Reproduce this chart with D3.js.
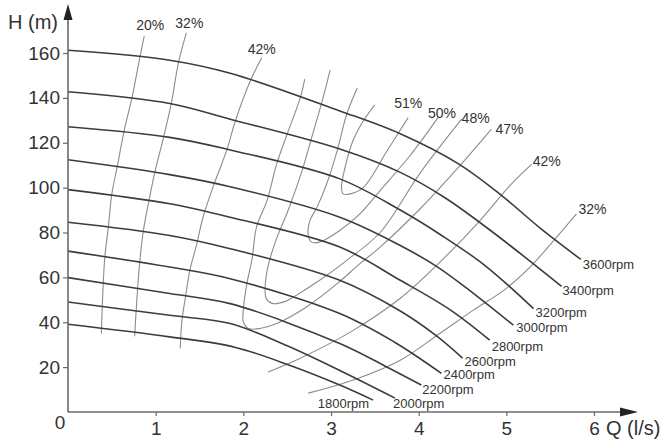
<!DOCTYPE html>
<html><head><meta charset="utf-8">
<script src="https://cdn.jsdelivr.net/npm/d3@7"></script>
<style>body{margin:0;background:#fff}svg{display:block}</style>
</head><body><svg id="c" width="666" height="442"></svg>
<script>
// ---- data (Q in l/s, H in m) ----
const speeds = ["3600rpm","3400rpm","3200rpm","3000rpm","2800rpm","2600rpm","2400rpm","2200rpm","2000rpm","1800rpm"];
const curve3600 = [[0,161.2],[1.16,156.8],[1.85,151.0],[3.10,134.2],[3.79,124.0],[4.45,110.7],[4.93,97.0],[5.40,81.5],[5.85,68.0]];
const curve3400 = [[0,142.7],[1.16,137.5],[1.85,130.5],[3.10,117.2],[3.79,106.8],[4.30,95.5],[4.85,80.0],[5.63,56.0]];
const curve3200 = [[0,127.1],[1.16,122.4],[1.85,116.8],[3.10,103.9],[3.79,90.0],[4.25,79.0],[4.75,65.5],[5.31,46.1]];
const curve3000 = [[0,112.4],[1.16,105.8],[1.85,100.4],[3.10,86.8],[3.79,74.2],[4.20,65.0],[4.62,53.0],[5.08,38.7]];
const curve2800 = [[0,99.1],[1.16,92.8],[1.85,86.8],[3.10,73.5],[3.79,58.7],[4.36,45.5],[4.81,32.0]];
const curve2600 = [[0,84.6],[1.16,78.7],[1.85,72.8],[3.10,58.7],[3.79,45.0],[4.20,34.0],[4.50,24.0]];
const curve2400 = [[0,71.7],[1.16,64.6],[1.85,59.4],[3.10,43.9],[3.73,31.0],[4.26,17.2]];
const curve2200 = [[0,59.9],[1.16,52.8],[1.85,48.3],[3.10,30.5],[3.62,20.4],[4.03,12.0]];
const curve2000 = [[0,49.0],[1.16,43.1],[1.85,39.4],[2.50,29.5],[3.10,18.5],[3.73,6.2]];
const curve1800 = [[0,39.1],[1.16,33.5],[1.90,28.9],[2.55,20.5],[3.10,12.0],[3.48,5.3]];
const headCurves = [curve3600,curve3400,curve3200,curve3000,curve2800,curve2600,curve2400,curve2200,curve2000,curve1800];

const effNames = ["20%","32%","42%","51%","50%","48%","47%","42%","32%"];
const eff20  = [[0.38,35.0],[0.40,55.7],[0.42,69.0],[0.46,82.4],[0.50,97.2],[0.56,109.0],[0.64,125.3],[0.73,140.1],[0.82,158.1],[0.87,167.6]];
const eff32a = [[0.76,33.8],[0.79,52.8],[0.82,67.6],[0.86,80.9],[0.92,93.5],[0.99,106.8],[1.09,122.4],[1.18,137.9],[1.26,155.7],[1.35,169.0]];
const eff42a = [[1.28,28.3],[1.30,40.9],[1.34,51.2],[1.39,63.1],[1.47,75.0],[1.54,86.8],[1.66,100.9],[1.81,116.6],[1.91,129.8],[2.08,147.6],[2.21,157.9]];
const eff51  = [[3.50,136.9],[3.37,129.8],[3.25,120.9],[3.16,109.0],[3.12,100.1],[3.14,97.2],[3.22,97.2],[3.37,100.1],[3.64,116.4],[3.88,131.2]];
const eff50  = [[3.30,144.4],[3.18,132.8],[3.07,116.4],[2.95,101.6],[2.84,91.2],[2.76,85.3],[2.74,78.7],[2.78,75.7],[2.87,75.7],[3.10,80.9],[3.33,88.3],[3.56,98.7],[3.90,114.2],[4.22,131.2]];
const eff48  = [[2.99,152.4],[2.90,138.7],[2.78,122.4],[2.67,107.6],[2.51,89.8],[2.37,76.4],[2.28,64.6],[2.25,56.4],[2.26,50.7],[2.33,48.4],[2.48,49.3],[2.57,51.2],[2.87,58.7],[3.18,67.6],[3.56,80.0],[4.02,106.7],[4.49,130.5]];
const eff47  = [[2.70,148.4],[2.65,140.1],[2.50,123.9],[2.38,110.5],[2.27,94.2],[2.15,82.4],[2.10,68.3],[2.04,57.2],[2.00,45.3],[2.00,40.1],[2.06,37.2],[2.19,37.2],[2.38,39.4],[2.72,46.8],[3.07,57.2],[3.33,66.1],[3.56,73.5],[4.02,90.7],[4.47,109.8],[4.83,126.1]];
const eff42b = [[2.28,17.8],[2.65,24.0],[3.22,35.6],[3.79,50.7],[4.24,66.7],[4.70,85.3],[5.04,100.9],[5.29,110.5]];
const eff32b = [[2.74,8.4],[3.22,13.8],[3.79,23.1],[4.24,35.0],[4.62,45.3],[4.97,54.2],[5.27,64.6],[5.54,76.4],[5.80,88.3]];
const effCurves = [eff20,eff32a,eff42a,eff51,eff50,eff48,eff47,eff42b,eff32b];

const xTicks = [1,2,3,4,5,6];
const yTicks = [20,40,60,80,100,120,140,160];

// ---- layout ----
const svg = d3.select("#c");
const x = d3.scaleLinear().domain([0,6]).range([68,594]);
const y = d3.scaleLinear().domain([0,160]).range([412,53]);
const FONT = "'Liberation Sans', Arial, sans-serif";
const TXT = "#333";

// efficiency curves (thin grey)
const effLine = d3.line().x(d=>x(d[0])).y(d=>y(d[1])).curve(d3.curveCatmullRom.alpha(0.5));
svg.append("g").selectAll("path").data(effCurves).join("path")
  .attr("d", effLine).attr("fill","none").attr("stroke","#8c8c8c").attr("stroke-width",1.1);

// head curves (dark)
const hLine = d3.line().x(d=>x(d[0])).y(d=>y(d[1])).curve(d3.curveCatmullRom.alpha(0.5));
svg.append("g").selectAll("path").data(headCurves).join("path")
  .attr("d", hLine).attr("fill","none").attr("stroke","#3c3c3c").attr("stroke-width",1.6);

// axes
const ax = svg.append("g");
const axisCol = "#6a6a6a";
ax.append("line").attr("x1",x(0)).attr("x2",x(0)).attr("y1",y(0)).attr("y2",14).attr("stroke",axisCol).attr("stroke-width",1.6);
ax.append("line").attr("x1",x(0)).attr("x2",628).attr("y1",y(0)).attr("y2",y(0)).attr("stroke",axisCol).attr("stroke-width",1.6);
ax.append("path").attr("d",`M${x(0)},4 L${x(0)-4.5},20 L${x(0)+4.5},20 Z`).attr("fill","#222");
ax.append("path").attr("d",`M638,${y(0)} L620,${y(0)-4.5} L620,${y(0)+4.5} Z`).attr("fill","#222");

const yAxis = d3.axisLeft(y).tickValues(yTicks).tickSize(5).tickPadding(3).tickFormat(d3.format("d"));
const gy = svg.append("g").attr("transform",`translate(${x(0)},0)`).call(yAxis);
gy.select(".domain").remove();
gy.selectAll("line").attr("stroke",axisCol).attr("stroke-width",1.2);
gy.selectAll("text").attr("font-family",FONT).attr("font-size",19).attr("fill",TXT);

const xAxis = d3.axisBottom(x).tickValues(xTicks).tickSize(4).tickPadding(6).tickFormat(d3.format("d"));
const gx = svg.append("g").attr("transform",`translate(0,${y(0)})`).call(xAxis);
gx.select(".domain").remove();
gx.selectAll("line").attr("stroke",axisCol).attr("stroke-width",1.2);
gx.selectAll("text").attr("font-family",FONT).attr("font-size",19).attr("fill",TXT);

svg.append("text").attr("x",x(0)-8).attr("y",y(0)+17).attr("text-anchor","middle")
  .attr("font-family",FONT).attr("font-size",19).attr("fill",TXT).text("0");
svg.append("text").attr("x",8).attr("y",29).attr("font-family",FONT).attr("font-size",20).attr("fill",TXT)
  .text("H (m)");
svg.append("text").attr("x",606).attr("y",435).attr("font-family",FONT).attr("font-size",20).attr("fill",TXT)
  .text("Q (l/s)");

// rpm labels at end of each head curve
const rpmOff = [[2,5,"start"],[1,4,"start"],[2,3,"start"],[3,2,"start"],[2,6,"start"],[2,3,"start"],[2,1,"start"],[1,4,"start"],[-2,5,"start"],[-4,3,"end"]];
svg.append("g").selectAll("text").data(headCurves).join("text")
  .attr("x",(d,i)=>x(d[d.length-1][0])+rpmOff[i][0])
  .attr("y",(d,i)=>y(d[d.length-1][1])+rpmOff[i][1]+5)
  .attr("text-anchor",(d,i)=>rpmOff[i][2])
  .attr("font-family",FONT).attr("font-size",13).attr("fill",TXT)
  .text((d,i)=>speeds[i]);

// efficiency labels at the upper end of each curve
const effOff = [[6,-11,"middle"],[3,-10,"middle"],[0,-9,"middle"],[0,-15,"middle"],[4,-5,"middle"],[0,-1,"start"],[4,0,"start"],[1,-3,"start"],[2,-5,"start"]];
svg.append("g").selectAll("text").data(effCurves).join("text")
  .attr("x",(d,i)=>x(d[d.length-1][0])+effOff[i][0])
  .attr("y",(d,i)=>y(d[d.length-1][1])+effOff[i][1]+5)
  .attr("text-anchor",(d,i)=>effOff[i][2])
  .attr("font-family",FONT).attr("font-size",14).attr("fill",TXT)
  .text((d,i)=>effNames[i]);
</script></body></html>
